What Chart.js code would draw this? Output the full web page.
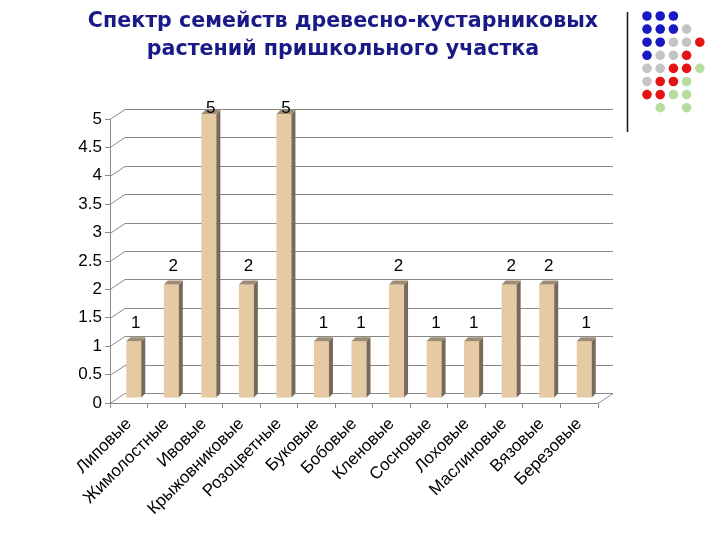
<!DOCTYPE html>
<html><head><meta charset="utf-8">
<script src="https://cdn.jsdelivr.net/npm/chart.js@4.4.1/dist/chart.umd.min.js"></script>
<style>html,body{margin:0;padding:0;background:#fff;}</style>
</head><body>
<canvas id="c" width="720" height="540"></canvas>
<script>
const categories = ['Липовые','Жимолостные','Ивовые','Крыжовниковые','Розоцветные','Буковые','Бобовые','Кленовые','Сосновые','Лоховые','Маслиновые','Вязовые','Березовые'];
const counts = [1,2,5,2,5,1,1,2,1,1,2,2,1];
const yMin = 0, yMax = 5, yStep = 0.5;
const titleLines = ['Спектр семейств древесно-кустарниковых','растений пришкольного участка'];

const FONT = "'Liberation Sans', Arial, sans-serif";
const TITLE_FONT = "'DejaVu Sans', Verdana, sans-serif";
const WALL_DX = 15, WALL_DY = 10;   // depth of back wall
const BAR_DX = 5, BAR_DY = 5;       // bars sit at mid depth
const BAR_D = 4;                    // bar thickness (3D)

const dotRows = [
  'bbb..',
  'bbbg.',
  'bbggr',
  'bggr.',
  'ggrrl',
  'grrl.',
  'rrll.',
  '.l.l.'
];
const dotColors = {b:'#1818c4', g:'#c4c4c4', r:'#e41414', l:'#b6dc9e'};

const deco = {
  id: 'deco',
  beforeDraw(chart) {
    const ctx = chart.ctx;
    ctx.save();
    ctx.fillStyle = '#fff';
    ctx.fillRect(0, 0, chart.width, chart.height);
    // title
    ctx.fillStyle = '#1a1a86';
    ctx.font = 'bold 20.6px ' + TITLE_FONT;
    ctx.textAlign = 'center';
    ctx.textBaseline = 'alphabetic';
    ctx.fillText(titleLines[0], 343, 27);
    ctx.fillText(titleLines[1], 343, 55);
    // separator line
    ctx.strokeStyle = '#111';
    ctx.lineWidth = 1.5;
    ctx.beginPath(); ctx.moveTo(627.5, 12); ctx.lineTo(627.5, 132); ctx.stroke();
    // dots
    dotRows.forEach((row, r) => {
      [...row].forEach((ch, c) => {
        if (ch === '.') return;
        ctx.fillStyle = dotColors[ch];
        ctx.beginPath();
        ctx.arc(647 + c * 13.2, 16 + r * 13.1, 4.8, 0, Math.PI * 2);
        ctx.fill();
      });
    });
    ctx.restore();
  },
  beforeDatasetsDraw(chart) {
    const ctx = chart.ctx, ys = chart.scales.y, a = chart.chartArea;
    ctx.save();
    ctx.strokeStyle = '#8a8a8a';
    ctx.lineWidth = 1;
    ys.ticks.forEach(t => {
      const y = Math.round(ys.getPixelForValue(t.value)) + 0.5;
      ctx.beginPath();
      ctx.moveTo(a.left, y);
      ctx.lineTo(a.left + WALL_DX, y - WALL_DY);
      ctx.lineTo(a.right + WALL_DX, y - WALL_DY);
      ctx.stroke();
    });
    // floor right edge
    ctx.beginPath();
    ctx.moveTo(a.right, a.bottom + 0.5);
    ctx.lineTo(a.right + WALL_DX, a.bottom - WALL_DY + 0.5);
    ctx.stroke();
    ctx.restore();
    ctx.save();
    ctx.translate(BAR_DX, -BAR_DY);
  },
  afterDatasetsDraw(chart) {
    const ctx = chart.ctx, a = chart.chartArea;
    ctx.restore();
    const meta = chart.getDatasetMeta(0);
    ctx.save();
    meta.data.forEach((el, i) => {
      const p = el.getProps(['x', 'y', 'base', 'width'], true);
      const l = p.x - p.width / 2 + BAR_DX, r = p.x + p.width / 2 + BAR_DX;
      const top = p.y - BAR_DY, bot = p.base - BAR_DY;
      // side face
      ctx.fillStyle = '#786a5a';
      ctx.beginPath();
      ctx.moveTo(r, top); ctx.lineTo(r + BAR_D, top - BAR_D);
      ctx.lineTo(r + BAR_D, bot - BAR_D); ctx.lineTo(r, bot);
      ctx.closePath(); ctx.fill();
      // top face
      ctx.fillStyle = '#9e8c74';
      ctx.beginPath();
      ctx.moveTo(l, top); ctx.lineTo(l + BAR_D, top - BAR_D);
      ctx.lineTo(r + BAR_D, top - BAR_D); ctx.lineTo(r, top);
      ctx.closePath(); ctx.fill();
      // value label
      ctx.fillStyle = '#000';
      ctx.font = '17px ' + FONT;
      ctx.textAlign = 'center';
      ctx.textBaseline = 'middle';
      const ly = Math.max(top - 18, a.top - 11);
      ctx.fillText(String(counts[i]), p.x + BAR_DX + 2, ly);
    });
    ctx.restore();
  }
};

new Chart(document.getElementById('c'), {
  type: 'bar',
  data: {
    labels: categories,
    datasets: [{
      data: counts,
      backgroundColor: '#e5caa4',
      borderWidth: 0,
      barPercentage: 0.4,
      categoryPercentage: 1,
      clip: false
    }]
  },
  options: {
    responsive: false,
    animation: false,
    devicePixelRatio: 1,
    layout: { padding: { top: 119, right: 122, left: 0, bottom: 0 } },
    plugins: { legend: { display: false }, tooltip: { enabled: false }, title: { display: false } },
    scales: {
      x: {
        grid: { offset: true, drawOnChartArea: false, tickLength: 5, color: '#8a8a8a' },
        border: { color: '#8a8a8a' },
        ticks: { minRotation: 45, maxRotation: 45, autoSkip: false, color: '#000', font: { family: FONT, size: 17 }, padding: 6 },
        afterFit(s) { s.height = 137; }
      },
      y: {
        min: yMin, max: yMax,
        grid: { drawOnChartArea: false, tickLength: 5, color: '#8a8a8a' },
        border: { color: '#8a8a8a' },
        ticks: { stepSize: yStep, color: '#000', font: { family: FONT, size: 17 }, padding: 3,
                 callback: v => String(Math.round(v * 10) / 10) },
        afterFit(s) { s.width = 110; }
      }
    }
  },
  plugins: [deco]
});
</script>
</body></html>
